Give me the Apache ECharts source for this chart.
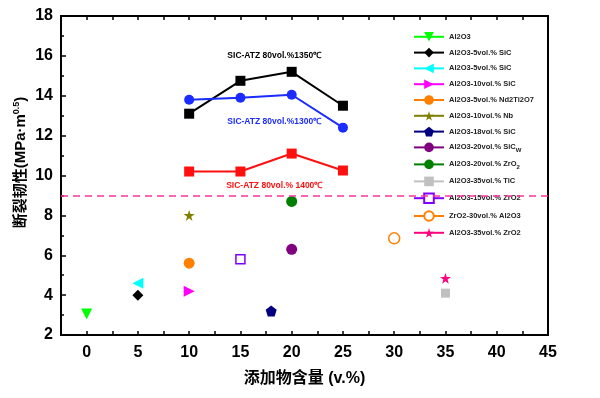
<!DOCTYPE html>
<html>
<head>
<meta charset="utf-8">
<script src="https://cdn.jsdelivr.net/npm/echarts@6/dist/echarts.min.js"></script>
<style>
  html, body { margin: 0; padding: 0; background: #fff; }
  #chart { width: 600px; height: 398px; }
</style>
</head>
<body>
<div id="chart"></div>
<script>
// SiC-ATZ curves
const lineX = [10, 15, 20, 25]
const t1350 = [13.1, 14.75, 15.2, 13.5]
const t1300 = [13.8, 13.9, 14.05, 12.4]
const t1400 = [10.2, 10.2, 11.1, 10.25]

// single literature points
const pointNames = [
  'Al2O3', 'Al2O3-5vol.% SiC', 'Al2O3-5vol.% SiC ', 'Al2O3-10vol.% SiC',
  'Al2O3-5vol.% Nd2Ti2O7', 'Al2O3-10vol.% Nb', 'Al2O3-18vol.% SiC',
  'Al2O3-20vol.% SiCw', 'Al2O3-20vol.% ZrO2', 'Al2O3-35vol.% TiC',
  'Al2O3-15vol.% ZrO2', 'ZrO2-30vol.% Al2O3', 'Al2O3-35vol.% ZrO2'
]
const pointX = [0, 5, 5, 10, 10, 10, 18, 20, 20, 35, 15, 30, 35]
const pointY = [3.05, 4.0, 4.6, 4.2, 5.6, 8.0, 3.2, 6.3, 8.7, 4.1, 5.8, 6.85, 4.85]
const xTicks = [0, 5, 10, 15, 20, 25, 30, 35, 40, 45]

const star = 'path://M50,0 L61,35 L98,35 L68,57 L79,91 L50,70 L21,91 L32,57 L2,35 L39,35 Z'
const pentagon = 'path://M50,0 L100,38 L81,100 L19,100 L0,38 Z'

// marker styles for each point series
const marks = [
  { color: '#00ff00', symbol: 'triangle', rotate: 180 },
  { color: '#000000', symbol: 'diamond', rotate: 0 },
  { color: '#00ffff', symbol: 'triangle', rotate: 90 },
  { color: '#ff00ff', symbol: 'triangle', rotate: -90 },
  { color: '#ff8000', symbol: 'circle', rotate: 0 },
  { color: '#808000', symbol: star, rotate: 0 },
  { color: '#000080', symbol: pentagon, rotate: 0 },
  { color: '#800080', symbol: 'circle', rotate: 0 },
  { color: '#008000', symbol: 'circle', rotate: 0 },
  { color: '#c0c0c0', symbol: 'rect', rotate: 0 },
  { color: '#8000ff', symbol: 'rect', rotate: 0, open: true },
  { color: '#ff8000', symbol: 'circle', rotate: 0, open: true },
  { color: '#ff0080', symbol: star, rotate: 0 }
]

const myChart = echarts.init(document.getElementById('chart'))

const lineSeries = (name, data, color, symbol, label, ly) => ({
  name: name,
  type: 'line',
  data: lineX.map((x, i) => [x, data[i]]),
  symbol: symbol,
  symbolSize: 10,
  lineStyle: { color: color, width: 2 },
  itemStyle: { color: color },
  markPoint: {
    symbol: 'circle',
    symbolSize: 0,
    data: [{ coord: [18.3, ly], value: label }],
    label: {
      show: true,
      position: 'inside',
      formatter: label,
      color: color,
      fontSize: 8.5,
      fontWeight: 'bold',
      fontFamily: 'Liberation Sans'
    }
  }
})

const series = [
  lineSeries('1350', t1350, '#000000', 'rect', 'SIC-ATZ 80vol.%1350℃', 16.0),
  lineSeries('1300', t1300, '#1a2cff', 'circle', 'SIC-ATZ 80vol.%1300℃', 12.68),
  lineSeries('1400', t1400, '#ff1010', 'rect', 'SIC-ATZ 80vol.% 1400℃', 9.47)
]
series[2].markLine = {
  silent: true,
  symbol: 'none',
  label: { show: false },
  lineStyle: { color: '#ff3399', type: [7, 5], width: 1.5 },
  data: [{ yAxis: 9 }]
}

pointNames.forEach((name, i) => {
  const m = marks[i]
  series.push({
    name: name,
    type: 'line',
    data: [[pointX[i], pointY[i]]],
    symbol: m.symbol,
    symbolRotate: m.rotate,
    symbolSize: m.symbol === 'rect' ? 9 : 11,
    lineStyle: { color: m.color, width: 2 },
    itemStyle: m.open
      ? { color: '#fff', borderColor: m.color, borderWidth: 1.5 }
      : { color: m.color }
  })
})

const legendText = {
  'Al2O3-20vol.% SiCw': 'Al2O3-20vol.% SiC{sub|W}',
  'Al2O3-20vol.% ZrO2': 'Al2O3-20vol.% ZrO{sub|2}'
}

const option = {
  animation: false,
  grid: {
    left: 61, right: 52, top: 16, bottom: 63,
    show: true, borderColor: '#000', borderWidth: 2, backgroundColor: 'transparent'
  },
  legend: {
    data: pointNames,
    orient: 'vertical',
    left: 408,
    top: 27,
    itemWidth: 30,
    itemHeight: 12,
    itemGap: 6.2,
    formatter: name => legendText[name] || name,
    textStyle: {
      fontSize: 7.5,
      fontWeight: 'bold',
      color: '#222',
      fontFamily: 'Liberation Sans',
      rich: { sub: { fontSize: 6, verticalAlign: 'bottom', padding: [6, 0, 0, 0], fontWeight: 'bold' } }
    }
  },
  xAxis: [
    {
      type: 'value',
      min: -2.5,
      max: 45,
      interval: 2.5,
      name: '添加物含量 (v.%)',
      nameLocation: 'middle',
      nameGap: 36,
      nameTextStyle: { fontSize: 16, fontWeight: 'bold', color: '#000', fontFamily: 'Liberation Sans, Noto Sans CJK SC' },
      axisLine: { onZero: false, lineStyle: { color: '#000', width: 2 } },
      axisTick: { inside: true, length: 4, lineStyle: { color: '#000', width: 1.5 } },
      axisLabel: {
        margin: 10,
        fontSize: 16,
        fontWeight: 'bold',
        color: '#000',
        fontFamily: 'Liberation Sans',
        formatter: v => (xTicks.indexOf(v) >= 0 ? String(v) : '')
      },
      splitLine: { show: false }
    },
    {
      type: 'value',
      position: 'top',
      min: -2.5,
      max: 45,
      interval: 2.5,
      axisLine: { onZero: false, lineStyle: { color: '#000', width: 2 } },
      axisTick: { inside: true, length: 4, lineStyle: { color: '#000', width: 1.5 } },
      axisLabel: { show: false },
      splitLine: { show: false }
    }
  ],
  yAxis: {
    type: 'value',
    min: 2,
    max: 18,
    interval: 2,
    name: '断裂韧性(MPa·m{sup|0.5})',
    nameLocation: 'middle',
    nameGap: 32,
    nameMoveOverlap: false,
    nameTextStyle: {
      fontSize: 15,
      fontWeight: 'bold',
      color: '#000',
      fontFamily: 'Liberation Sans, Noto Sans CJK SC',
      padding: [0, 0, 0, 26],
      rich: { sup: { fontSize: 9, verticalAlign: 'top', padding: [0, 0, 8, 0], color: '#000', fontFamily: 'Liberation Sans' } }
    },
    axisLine: { onZero: false, lineStyle: { color: '#000', width: 2 } },
    axisTick: { inside: true, length: 5, lineStyle: { color: '#000', width: 1.5 } },
    minorTick: { show: true, splitNumber: 2, length: 3, lineStyle: { color: '#000', width: 1.5 } },
    axisLabel: { margin: 8, fontSize: 16, fontWeight: 'bold', color: '#000', fontFamily: 'Liberation Sans' },
    splitLine: { show: false }
  },
  series: series
}

myChart.setOption(option)
</script>
</body>
</html>
